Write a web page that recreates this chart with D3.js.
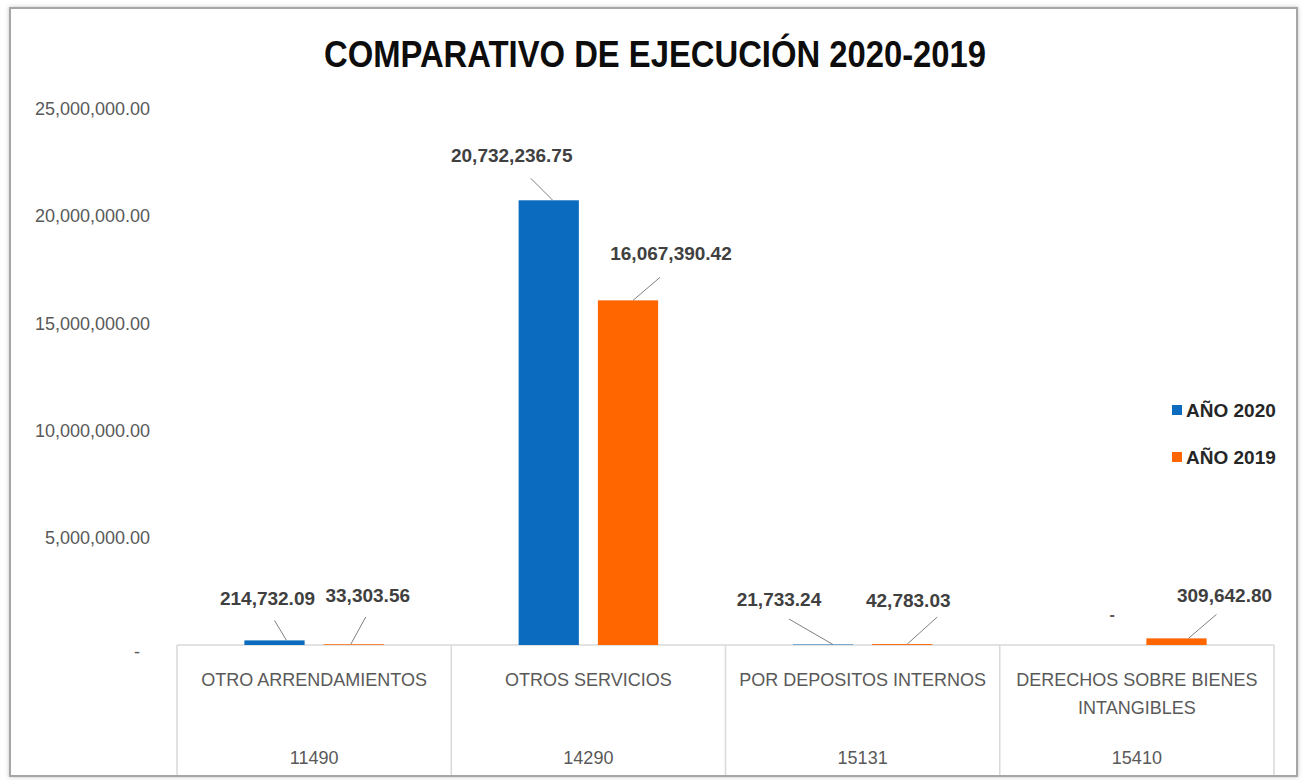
<!DOCTYPE html>
<html><head><meta charset="utf-8">
<script src="https://cdn.jsdelivr.net/npm/d3@7/dist/d3.min.js"></script>
<style>
html,body{margin:0;padding:0;background:#fff;}
svg{display:block;}
</style></head>
<body><svg id="c" width="1304" height="780"></svg>
<script>
// ---- data ----
const categories = ["OTRO ARRENDAMIENTOS", "OTROS SERVICIOS", "POR DEPOSITOS INTERNOS", "DERECHOS SOBRE BIENES|INTANGIBLES"];
const codes = ["11490", "14290", "15131", "15410"];
const seriesNames = ["AÑO 2020", "AÑO 2019"];
const values2020 = [214732.09, 20732236.75, 21733.24, 0];
const values2019 = [33303.56, 16067390.42, 42783.03, 309642.80];
const yTicks = [0, 5000000, 10000000, 15000000, 20000000, 25000000];
const title = "COMPARATIVO  DE EJECUCIÓN 2020-2019";

// ---- layout (label offsets from bar top centre: [labelDx, labelDy, leaderStartDx, leaderEndDx, leaderEndDy]) ----
const labelLayout2020 = [[-7,-42, 12, 0,-20],[-37,-45, 4,-18,-22],[-44,-42, 10,-34,-22],[15,-25,0,0,0]];
const labelLayout2019 = [[14,-46,-3, 12,-24],[43,-47, 5, 32,-23],[6,-41, 5, 35,-24],[48,-43, 12, 40,-24]];

const colors = ["#0A6BBF", "#FF6600"];
const svg = d3.select("#c");
const font = "'Liberation Sans Narrow','Arial Narrow',sans-serif";

// frame
const defs = svg.append("defs");
const f = defs.append("filter").attr("id","sh").attr("x","-5%").attr("y","-5%").attr("width","110%").attr("height","110%");
f.append("feDropShadow").attr("dx",0).attr("dy",0).attr("stdDeviation",2).attr("flood-color","#888").attr("flood-opacity",0.5);
svg.append("rect").attr("x",10).attr("y",8).attr("width",1287).attr("height",768)
  .attr("fill","#fff").attr("stroke","#a6a6a6").attr("stroke-width",2).attr("filter","url(#sh)");

const plotLeft = 177, plotRight = 1274, zeroY = 645;
const y = d3.scaleLinear().domain([0, 20000000]).range([zeroY, 216]);
const x0 = d3.scaleBand().domain(codes).range([plotLeft, plotRight]).paddingInner(0).paddingOuter(0);
const x1 = d3.scaleBand().domain(seriesNames).range([0, x0.bandwidth()]).paddingInner(0.24).paddingOuter(0.85);

// title
svg.append("text").attr("x",655).attr("y",67).attr("text-anchor","middle")
  .attr("font-family",font).attr("font-weight","bold").attr("font-size",36).attr("fill","#0d0d0d")
  .attr("textLength",662).attr("lengthAdjust","spacingAndGlyphs").text(title);

// y axis
const fmt = d3.format(",.2f");
const yAxis = d3.axisLeft(y).tickValues(yTicks).tickSize(0).tickPadding(0)
  .tickFormat(d => d === 0 ? "-" : fmt(d));
const ya = svg.append("g").attr("transform","translate(150,0)").call(yAxis);
ya.select(".domain").remove();
ya.selectAll("text").attr("font-family",font).attr("font-size",18).attr("fill","#595959")
  .attr("dy", d => d === 0 ? "0.7em" : "0.32em").attr("x", d => d===0 ? -10 : 0);

// category table
const tbl = svg.append("g");
tbl.append("line").attr("x1",plotLeft).attr("x2",plotRight).attr("y1",zeroY).attr("y2",zeroY).attr("stroke","#d9d9d9").attr("stroke-width",1.5);
const divs = codes.map(c => x0(c)).concat([plotRight]);
tbl.selectAll("line.div").data(divs).join("line").attr("class","div")
  .attr("x1",d=>d).attr("x2",d=>d).attr("y1",zeroY).attr("y2",775).attr("stroke","#d9d9d9").attr("stroke-width",1.5);
codes.forEach((c,i) => {
  const cx = x0(c) + x0.bandwidth()/2;
  const lines = categories[i].split("|");
  lines.forEach((t,j) => {
    tbl.append("text").attr("x",cx).attr("y",686 + j*28).attr("text-anchor","middle")
      .attr("font-family",font).attr("font-size",18).attr("fill","#595959").text(t);
  });
  tbl.append("text").attr("x",cx).attr("y",764).attr("text-anchor","middle")
    .attr("font-family",font).attr("font-size",18).attr("fill","#595959").text(c);
});

// bars
const series = [values2020, values2019];
const layouts = [labelLayout2020, labelLayout2019];
series.forEach((vals, s) => {
  const g = svg.append("g");
  g.selectAll("rect").data(vals).join("rect")
    .attr("x",(d,i)=>x0(codes[i]) + x1(seriesNames[s]))
    .attr("width",x1.bandwidth())
    .attr("y",d=>y(d))
    .attr("height",d=> zeroY - y(d))
    .attr("fill",colors[s]);
  vals.forEach((d,i) => {
    const bx = x0(codes[i]) + x1(seriesNames[s]) + x1.bandwidth()/2;
    const by = Math.min(y(d), zeroY-4);
    const L = layouts[s][i];
    if (d === 0) {
      g.append("text").attr("x",bx+L[0]).attr("y",zeroY+L[1]).attr("text-anchor","middle")
        .attr("font-family",font).attr("font-weight","bold").attr("font-size",16).attr("fill","#595959").text("-");
      return;
    }
    g.append("line").attr("x1",bx+L[2]).attr("y1",y(d)).attr("x2",bx+L[3]).attr("y2",by+L[4])
      .attr("stroke","#808080").attr("stroke-width",1);
    g.append("text").attr("x",bx+L[0]).attr("y",by+L[1]).attr("text-anchor","middle").attr("dy","0.35em")
      .attr("font-family",font).attr("font-weight","bold").attr("font-size",19).attr("fill","#404040")
      .text(fmt(d));
  });
});

// legend
const lg = svg.append("g");
seriesNames.forEach((n,i) => {
  const ly = 410 + i*47;
  lg.append("rect").attr("x",1172).attr("y",ly-5).attr("width",10).attr("height",10).attr("fill",colors[i]);
  lg.append("text").attr("x",1186).attr("y",ly).attr("dy","0.35em")
    .attr("font-family",font).attr("font-weight","bold").attr("font-size",19).attr("fill","#262626").text(n);
});
</script></body></html>
